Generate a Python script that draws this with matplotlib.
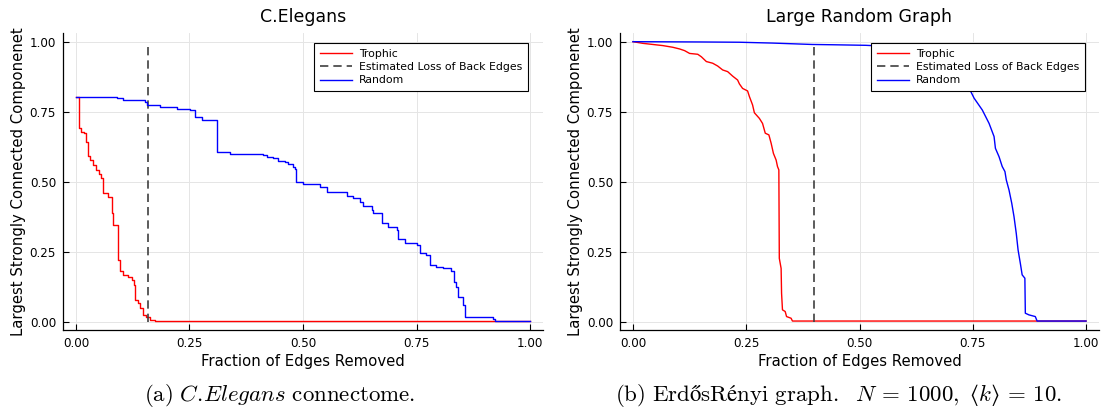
import matplotlib
matplotlib.use("Agg")
import matplotlib.pyplot as plt
import numpy as np

# ---------------- data ----------------
# C.Elegans panel (step data: value holds from x_i to x_{i+1})
ce_trophic_x = [0.000, 0.006, 0.011, 0.017, 0.022, 0.026, 0.031, 0.038, 0.044, 0.050,
                0.055, 0.059, 0.070, 0.079, 0.082, 0.093, 0.097, 0.104, 0.115, 0.123,
                0.128, 0.130, 0.137, 0.141, 0.147, 0.154, 0.163, 0.174, 1.000]
ce_trophic_y = [0.804, 0.690, 0.679, 0.673, 0.643, 0.592, 0.577, 0.560, 0.542, 0.527,
                0.512, 0.458, 0.446, 0.387, 0.345, 0.220, 0.179, 0.167, 0.161, 0.149,
                0.131, 0.077, 0.065, 0.048, 0.024, 0.018, 0.006, 0.002, 0.002]
ce_random_x = [0.000, 0.079, 0.090, 0.104, 0.141, 0.152, 0.157, 0.185, 0.207, 0.222,
               0.251, 0.262, 0.277, 0.310, 0.339, 0.376, 0.413, 0.420, 0.435, 0.446,
               0.460, 0.468, 0.479, 0.483, 0.485, 0.501, 0.523, 0.537, 0.552, 0.585,
               0.596, 0.611, 0.626, 0.633, 0.651, 0.655, 0.673, 0.688, 0.706, 0.710,
               0.725, 0.750, 0.758, 0.772, 0.780, 0.794, 0.809, 0.827, 0.833, 0.838,
               0.842, 0.853, 0.857, 0.901, 0.919, 0.923, 1.000]
ce_random_y = [0.804, 0.802, 0.800, 0.792, 0.790, 0.783, 0.774, 0.768, 0.766, 0.758,
               0.756, 0.732, 0.720, 0.605, 0.599, 0.597, 0.595, 0.589, 0.583, 0.575,
               0.571, 0.563, 0.554, 0.544, 0.500, 0.492, 0.490, 0.482, 0.464, 0.464,
               0.450, 0.440, 0.429, 0.413, 0.399, 0.387, 0.351, 0.339, 0.327, 0.294,
               0.282, 0.274, 0.246, 0.238, 0.202, 0.194, 0.190, 0.182, 0.143, 0.125,
               0.089, 0.060, 0.018, 0.015, 0.011, 0.002, 0.002]
ce_back_edges = 0.159

# Large random graph panel
rg_trophic_x = [0.000, 0.022, 0.044, 0.066, 0.088, 0.103, 0.114, 0.125, 0.143, 0.151,
                0.162, 0.176, 0.187, 0.198, 0.209, 0.220, 0.231, 0.235, 0.242, 0.253,
                0.257, 0.264, 0.268, 0.279, 0.286, 0.292, 0.300, 0.305, 0.310, 0.316,
                0.319, 0.322, 0.323, 0.327, 0.328, 0.330, 0.336, 0.339, 0.349, 0.352, 1.000]
rg_trophic_y = [1.000, 0.994, 0.990, 0.986, 0.980, 0.974, 0.968, 0.958, 0.955, 0.946,
                0.929, 0.923, 0.913, 0.899, 0.893, 0.877, 0.863, 0.849, 0.833, 0.824,
                0.804, 0.774, 0.746, 0.726, 0.708, 0.673, 0.667, 0.637, 0.601, 0.577,
                0.554, 0.542, 0.226, 0.190, 0.101, 0.042, 0.036, 0.018, 0.012, 0.002, 0.002]
rg_random_x = [0.000, 0.147, 0.235, 0.308, 0.396, 0.441, 0.514, 0.580, 0.640, 0.690,
               0.720, 0.740, 0.753, 0.771, 0.786, 0.797, 0.800, 0.808, 0.815, 0.821,
               0.824, 0.830, 0.836, 0.841, 0.846, 0.850, 0.855, 0.859, 0.865, 0.866,
               0.874, 0.888, 0.892, 1.000]
rg_random_y = [1.000, 0.999, 0.998, 0.995, 0.990, 0.989, 0.987, 0.982, 0.970, 0.940,
               0.890, 0.840, 0.798, 0.756, 0.708, 0.661, 0.619, 0.589, 0.554, 0.536,
               0.506, 0.470, 0.423, 0.375, 0.315, 0.256, 0.208, 0.167, 0.155, 0.030,
               0.024, 0.018, 0.002, 0.002]
rg_back_edges = 0.399

titles = ["C.Elegans", "Large Random Graph"]
xlabel = "Fraction of Edges Removed"
ylabel = "Largest Strongly Connected Componenet"
ticks = [0.00, 0.25, 0.50, 0.75, 1.00]
tick_labels = ["0.00", "0.25", "0.50", "0.75", "1.00"]
captions = [r"$\mathrm{(a)}\ \mathit{C.}\!\mathit{Elegans}\ \mathrm{connectome.}$",
            "$\\mathrm{(b)\\ Erdős Rényi\\ graph.}\\ \\ N\\,=\\,1000,\\ \u27e8k\u27e9\\,=\\,10.$"]

plt.rcParams["mathtext.fontset"] = "cm"

fig = plt.figure(figsize=(11.02, 4.15), dpi=100)
ax1 = fig.add_axes([63 / 1102, 1 - 330 / 415, 480 / 1102, 297 / 415])
ax2 = fig.add_axes([620 / 1102, 1 - 330 / 415, 479 / 1102, 297 / 415])

RED = "#ff0000"
BLUE = "#0000ff"
DASH = "#404040"

def style(ax, title, anchor):
    ax.set_xlim(-0.0286, 1.0286)
    ax.set_ylim(-0.030, 1.031)
    ax.set_xticks(ticks)
    ax.set_xticklabels(tick_labels)
    ax.set_yticks(ticks)
    ax.set_yticklabels(tick_labels)
    ax.tick_params(direction="in", length=4, width=0.8, labelsize=8.6, pad=5)
    ax.grid(True, color="#e5e5e5", lw=0.7)
    ax.set_axisbelow(True)
    for s in ["top", "right"]:
        ax.spines[s].set_visible(False)
    for s in ["left", "bottom"]:
        ax.spines[s].set_linewidth(0.9)
    ax.set_title(title, fontsize=12.5, pad=8)
    ax.set_xlabel(xlabel, fontsize=10.7, labelpad=3)
    ax.set_ylabel(ylabel, fontsize=10.7, labelpad=3)
    leg = ax.legend(loc="upper right", bbox_to_anchor=anchor, fontsize=7.8,
                    frameon=True, fancybox=False, framealpha=1.0, edgecolor="black",
                    handlelength=3.0, borderpad=0.55, labelspacing=0.3,
                    handletextpad=0.6, borderaxespad=0.0)
    leg.get_frame().set_linewidth(0.8)

ax1.plot(ce_trophic_x, ce_trophic_y, color=RED, lw=1.0, drawstyle="steps-post", label="Trophic")
ax1.plot([ce_back_edges, ce_back_edges], [0, 1], color=DASH, lw=1.2, ls=(0, (5, 3)),
         label="Estimated Loss of Back Edges")
ax1.plot(ce_random_x, ce_random_y, color=BLUE, lw=1.0, drawstyle="steps-post", label="Random")
style(ax1, titles[0], ((528 - 63) / 480, (330 - 43) / 297))

ax2.plot(rg_trophic_x, rg_trophic_y, color=RED, lw=1.0, label="Trophic")
ax2.plot([rg_back_edges, rg_back_edges], [0, 1], color=DASH, lw=1.2, ls=(0, (5, 3)),
         label="Estimated Loss of Back Edges")
ax2.plot(rg_random_x, rg_random_y, color=BLUE, lw=1.0, label="Random")
style(ax2, titles[1], ((1085 - 620) / 479, (330 - 43) / 297))

fig.text(280 / 1102, 1 - 401 / 415, captions[0], fontsize=16.5, ha="center", va="baseline")
fig.text(838 / 1102, 1 - 401 / 415, captions[1], fontsize=16.5, ha="center", va="baseline")

fig.savefig("out.png", dpi=100)
